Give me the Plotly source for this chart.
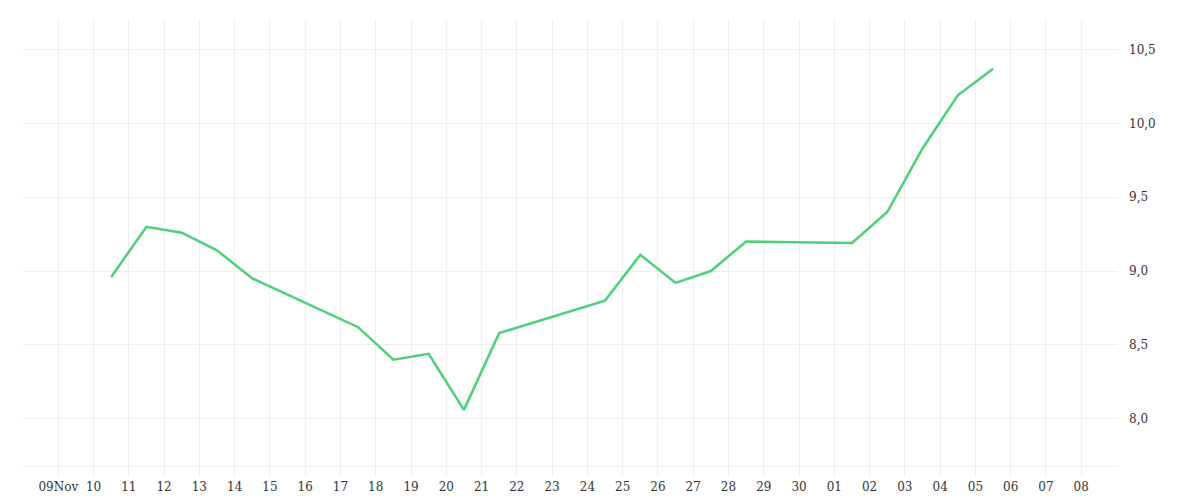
import plotly.graph_objects as go

dates = ["2021-11-10 12:00","2021-11-11 12:00","2021-11-12 12:00","2021-11-13 12:00","2021-11-14 12:00",
         "2021-11-17 12:00","2021-11-18 12:00","2021-11-19 12:00","2021-11-20 12:00","2021-11-21 12:00",
         "2021-11-24 12:00","2021-11-25 12:00","2021-11-26 12:00","2021-11-27 12:00","2021-11-28 12:00",
         "2021-12-01 12:00","2021-12-02 12:00","2021-12-03 12:00","2021-12-04 12:00","2021-12-05 12:00"]
values = [8.96, 9.30, 9.26, 9.14, 8.95, 8.62, 8.40, 8.44, 8.06, 8.58,
          8.80, 9.11, 8.92, 9.00, 9.20, 9.19, 9.40, 9.83, 10.19, 10.37]

tick_days = [f"2021-11-{d:02d}" for d in range(9, 31)] + [f"2021-12-{d:02d}" for d in range(1, 9)]
tick_labels = ["09Nov"] + [f"{d:02d}" for d in range(10, 31)] + [f"{d:02d}" for d in range(1, 9)]
y_ticks = [8.0, 8.5, 9.0, 9.5, 10.0, 10.5]

fig = go.Figure(go.Scatter(x=dates, y=values, mode="lines",
                           line=dict(color="#4dd07a", width=2.5)))
fig.update_layout(
    width=1200, height=500, plot_bgcolor="white", paper_bgcolor="white",
    margin=dict(l=15, r=90, t=12, b=42), showlegend=False, separators=",.",
    font=dict(family="DejaVu Serif", size=12, color="#333"),
    xaxis=dict(type="date", range=["2021-11-08", "2021-12-09 01:00"], automargin=False,
               tickvals=tick_days, ticktext=tick_labels, showgrid=True,
               gridcolor="#eeeeee", ticks="outside", ticklen=10, tickcolor="#eeeeee",
               showline=True, linecolor="#eeeeee", zeroline=False),
    yaxis=dict(side="right", range=[7.68, 10.70], tickvals=y_ticks, automargin=False,
               tickformat=".1f", showgrid=True, gridcolor="#eeeeee", zeroline=False,
               ticklabelstandoff=10),
)
fig.write_html("out.html")
